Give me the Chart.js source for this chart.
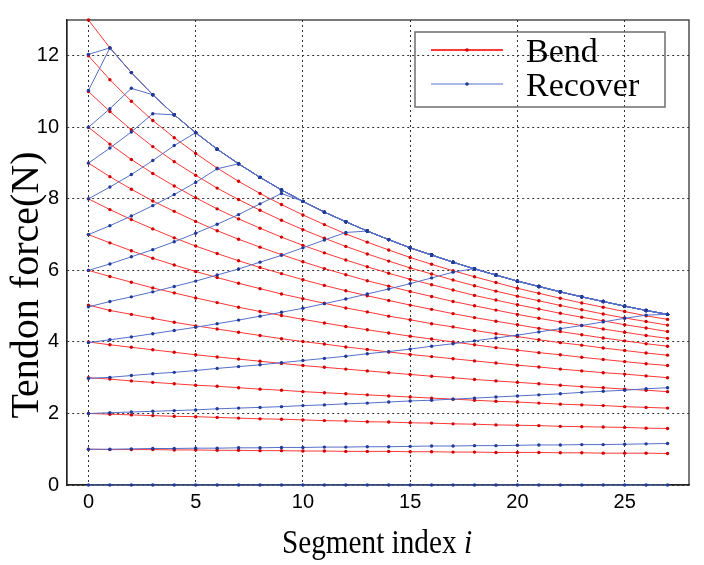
<!DOCTYPE html>
<html>
<head>
<meta charset="utf-8">
<script src="https://cdn.jsdelivr.net/npm/chart.js@4.4.1/dist/chart.umd.min.js"></script>
<style>
  html, body { margin: 0; padding: 0; background: #fff; }
  #wrap { width: 704px; height: 565px; }
</style>
</head>
<body>
<div id="wrap"><canvas id="chart" width="704" height="565"></canvas></div>
<script>
// segment index on the x axis
const segmentIndex = [0,1,2,3,4,5,6,7,8,9,10,11,12,13,14,15,16,17,18,19,20,21,22,23,24,25,26,27];
const xTicks = [0, 5, 10, 15, 20, 25];
const yTicks = [0, 2, 4, 6, 8, 10, 12];

// Bend: tension along the segments, one curve per proximal force
const bend13 = [13, 12.22, 11.53, 10.91, 10.35, 9.85, 9.39, 8.98, 8.60, 8.25, 7.93, 7.63, 7.36, 7.10, 6.86, 6.63, 6.43, 6.23, 6.04, 5.87, 5.70, 5.55, 5.40, 5.26, 5.13, 5.00, 4.88, 4.77];
const bend12 = [12, 11.33, 10.73, 10.19, 9.71, 9.27, 8.86, 8.49, 8.15, 7.84, 7.55, 7.28, 7.02, 6.79, 6.57, 6.36, 6.17, 5.99, 5.82, 5.66, 5.50, 5.36, 5.22, 5.09, 4.97, 4.85, 4.73, 4.63];
const bend11 = [11, 10.44, 9.93, 9.46, 9.04, 8.66, 8.30, 7.98, 7.68, 7.40, 7.14, 6.90, 6.67, 6.46, 6.26, 6.07, 5.90, 5.73, 5.57, 5.42, 5.28, 5.15, 5.02, 4.90, 4.78, 4.67, 4.57, 4.47];
const bend10 = [10, 9.53, 9.10, 8.71, 8.36, 8.03, 7.72, 7.44, 7.18, 6.93, 6.70, 6.49, 6.29, 6.10, 5.92, 5.75, 5.60, 5.45, 5.30, 5.17, 5.04, 4.92, 4.80, 4.69, 4.59, 4.48, 4.39, 4.29];
const bend9 = [9, 8.62, 8.27, 7.94, 7.65, 7.37, 7.11, 6.87, 6.65, 6.44, 6.24, 6.05, 5.88, 5.71, 5.56, 5.41, 5.27, 5.13, 5.01, 4.89, 4.77, 4.66, 4.56, 4.46, 4.36, 4.27, 4.18, 4.10];
const bend8 = [8, 7.70, 7.42, 7.16, 6.91, 6.68, 6.47, 6.27, 6.08, 5.91, 5.74, 5.58, 5.43, 5.29, 5.16, 5.03, 4.91, 4.79, 4.68, 4.58, 4.48, 4.38, 4.29, 4.20, 4.11, 4.03, 3.95, 3.88];
const bend7 = [7, 6.77, 6.55, 6.34, 6.15, 5.97, 5.80, 5.64, 5.49, 5.34, 5.21, 5.08, 4.95, 4.84, 4.72, 4.62, 4.51, 4.42, 4.32, 4.23, 4.15, 4.06, 3.98, 3.91, 3.83, 3.76, 3.69, 3.63];
const bend6 = [6, 5.83, 5.67, 5.51, 5.37, 5.23, 5.10, 4.97, 4.85, 4.74, 4.63, 4.53, 4.43, 4.34, 4.25, 4.16, 4.08, 4.00, 3.92, 3.84, 3.77, 3.70, 3.64, 3.57, 3.51, 3.45, 3.39, 3.34];
const bend5 = [5.03, 4.88, 4.77, 4.66, 4.55, 4.45, 4.36, 4.27, 4.18, 4.09, 4.01, 3.94, 3.86, 3.79, 3.72, 3.65, 3.59, 3.53, 3.47, 3.41, 3.35, 3.30, 3.24, 3.19, 3.14, 3.10, 3.05, 3.00];
const bend4 = [4, 3.92, 3.85, 3.78, 3.71, 3.64, 3.58, 3.52, 3.46, 3.40, 3.34, 3.29, 3.24, 3.19, 3.14, 3.09, 3.04, 3.00, 2.95, 2.91, 2.87, 2.83, 2.79, 2.75, 2.72, 2.68, 2.65, 2.61];
const bend3 = [3, 2.96, 2.91, 2.87, 2.83, 2.79, 2.76, 2.72, 2.68, 2.65, 2.61, 2.58, 2.55, 2.52, 2.49, 2.46, 2.43, 2.40, 2.37, 2.34, 2.32, 2.29, 2.26, 2.24, 2.22, 2.19, 2.17, 2.15];
const bend2 = [2, 1.98, 1.96, 1.94, 1.92, 1.91, 1.89, 1.87, 1.85, 1.84, 1.82, 1.80, 1.79, 1.77, 1.76, 1.74, 1.73, 1.71, 1.70, 1.68, 1.67, 1.66, 1.64, 1.63, 1.62, 1.61, 1.59, 1.58];
const bend1 = [1, 0.99, 0.99, 0.99, 0.98, 0.98, 0.97, 0.97, 0.96, 0.96, 0.95, 0.95, 0.94, 0.94, 0.94, 0.93, 0.93, 0.92, 0.92, 0.91, 0.91, 0.91, 0.90, 0.90, 0.89, 0.89, 0.89, 0.88];

// Recover: tension rising until it meets the top bend curve
const recover12 = [12.04, 12.22, 11.53, 10.91, 10.35, 9.85, 9.39, 8.98, 8.60, 8.25, 7.93, 7.63, 7.36, 7.10, 6.86, 6.63, 6.43, 6.23, 6.04, 5.87, 5.70, 5.55, 5.40, 5.26, 5.13, 5.00, 4.88, 4.77];
const recover11 = [11.03, 12.22, 11.53, 10.91, 10.35, 9.85, 9.39, 8.98, 8.60, 8.25, 7.93, 7.63, 7.36, 7.10, 6.86, 6.63, 6.43, 6.23, 6.04, 5.87, 5.70, 5.55, 5.40, 5.26, 5.13, 5.00, 4.88, 4.77];
const recover10 = [10, 10.52, 11.09, 10.91, 10.35, 9.85, 9.39, 8.98, 8.60, 8.25, 7.93, 7.63, 7.36, 7.10, 6.86, 6.63, 6.43, 6.23, 6.04, 5.87, 5.70, 5.55, 5.40, 5.26, 5.13, 5.00, 4.88, 4.77];
const recover9 = [9, 9.42, 9.87, 10.38, 10.35, 9.85, 9.39, 8.98, 8.60, 8.25, 7.93, 7.63, 7.36, 7.10, 6.86, 6.63, 6.43, 6.23, 6.04, 5.87, 5.70, 5.55, 5.40, 5.26, 5.13, 5.00, 4.88, 4.77];
const recover8 = [8, 8.33, 8.68, 9.07, 9.49, 9.85, 9.39, 8.98, 8.60, 8.25, 7.93, 7.63, 7.36, 7.10, 6.86, 6.63, 6.43, 6.23, 6.04, 5.87, 5.70, 5.55, 5.40, 5.26, 5.13, 5.00, 4.88, 4.77];
const recover7 = [7, 7.25, 7.52, 7.81, 8.12, 8.46, 8.84, 8.98, 8.60, 8.25, 7.93, 7.63, 7.36, 7.10, 6.86, 6.63, 6.43, 6.23, 6.04, 5.87, 5.70, 5.55, 5.40, 5.26, 5.13, 5.00, 4.88, 4.77];
const recover6 = [6, 6.18, 6.38, 6.58, 6.80, 7.04, 7.29, 7.56, 7.86, 8.15, 7.93, 7.63, 7.36, 7.10, 6.86, 6.63, 6.43, 6.23, 6.04, 5.87, 5.70, 5.55, 5.40, 5.26, 5.13, 5.00, 4.88, 4.77];
const recover5 = [4.98, 5.13, 5.26, 5.40, 5.55, 5.70, 5.87, 6.04, 6.23, 6.42, 6.63, 6.85, 7.06, 7.10, 6.86, 6.63, 6.43, 6.23, 6.04, 5.87, 5.70, 5.55, 5.40, 5.26, 5.13, 5.00, 4.88, 4.77];
const recover4 = [3.98, 4.06, 4.14, 4.23, 4.32, 4.41, 4.51, 4.61, 4.72, 4.83, 4.94, 5.07, 5.20, 5.34, 5.48, 5.63, 5.79, 5.95, 6.05, 5.87, 5.70, 5.55, 5.40, 5.26, 5.13, 5.00, 4.88, 4.77];
const recover3 = [2.98, 3.01, 3.06, 3.11, 3.15, 3.20, 3.26, 3.31, 3.36, 3.42, 3.48, 3.54, 3.60, 3.67, 3.73, 3.80, 3.88, 3.95, 4.03, 4.11, 4.19, 4.28, 4.37, 4.46, 4.56, 4.66, 4.75, 4.77];
const recover2 = [2, 2.02, 2.04, 2.06, 2.08, 2.10, 2.13, 2.15, 2.17, 2.19, 2.22, 2.24, 2.27, 2.29, 2.32, 2.35, 2.37, 2.40, 2.43, 2.46, 2.49, 2.52, 2.55, 2.59, 2.62, 2.65, 2.69, 2.72];
const recover1 = [1, 1.00, 1.01, 1.02, 1.02, 1.03, 1.03, 1.04, 1.04, 1.05, 1.05, 1.06, 1.06, 1.07, 1.07, 1.08, 1.09, 1.09, 1.10, 1.10, 1.11, 1.12, 1.12, 1.13, 1.13, 1.14, 1.15, 1.16];
const recover0 = [0, 0, 0, 0, 0, 0, 0, 0, 0, 0, 0, 0, 0, 0, 0, 0, 0, 0, 0, 0, 0, 0, 0, 0, 0, 0, 0, 0];

const bendSeries = [bend13, bend12, bend11, bend10, bend9, bend8, bend7, bend6, bend5, bend4, bend3, bend2, bend1];
const recoverSeries = [recover12, recover11, recover10, recover9, recover8, recover7, recover6, recover5, recover4, recover3, recover2, recover1, recover0];

const RED_LINE = '#ff3838';
const RED_DOT = '#d40000';
const BLUE_LINE = '#5570c8';
const BLUE_DOT = '#1f3a9a';
const SERIF = '"Liberation Serif", "Times New Roman", serif';

function toPoints(values) {
    return values.map((v, i) => ({ x: segmentIndex[i], y: v }));
}

function makeDataset(values, label, line, dot, order) {
    return {
        label: label,
        data: toPoints(values),
        borderColor: line,
        borderWidth: 1,
        pointRadius: 1.7,
        pointBackgroundColor: dot,
        pointBorderWidth: 0,
        tension: 0,
        clip: false,
        order: order
    };
}

let datasets = [];
bendSeries.forEach(v => datasets.push(makeDataset(v, 'Bend', RED_LINE, RED_DOT, 2)));
recoverSeries.forEach(v => datasets.push(makeDataset(v, 'Recover', BLUE_LINE, BLUE_DOT, 1)));

// frame, axis titles and the boxed legend inside the plot
const decor = {
    id: 'decor',
    beforeDatasetsDraw(chart) {
        const {ctx, chartArea: a} = chart;
        ctx.save();
        ctx.strokeStyle = '#222';
        ctx.lineWidth = 1.2;
        ctx.strokeRect(a.left, a.top, a.right - a.left, a.bottom - a.top);
        ctx.restore();
    },
    afterDatasetsDraw(chart) {
        const {ctx} = chart;
        ctx.save();
        ctx.fillStyle = '#000';

        // y title
        ctx.save();
        ctx.translate(38, 285);
        ctx.rotate(-Math.PI / 2);
        ctx.font = '40px ' + SERIF;
        ctx.textAlign = 'center';
        ctx.textBaseline = 'alphabetic';
        ctx.fillText('Tendon force(N)', 0, 0);
        ctx.restore();

        // x title with italic i, a little narrow like the original
        ctx.save();
        ctx.translate(377, 553);
        ctx.scale(0.86, 1);
        ctx.textBaseline = 'alphabetic';
        ctx.textAlign = 'left';
        ctx.font = '34px ' + SERIF;
        let part1 = 'Segment index ';
        let w1 = ctx.measureText(part1).width;
        ctx.font = 'italic 34px ' + SERIF;
        let w2 = ctx.measureText('i').width;
        let x0 = -(w1 + w2) / 2;
        ctx.font = '34px ' + SERIF;
        ctx.fillText(part1, x0, 0);
        ctx.font = 'italic 34px ' + SERIF;
        ctx.fillText('i', x0 + w1, 0);
        ctx.restore();

        // legend
        ctx.strokeStyle = '#6e6e6e';
        ctx.lineWidth = 1.5;
        ctx.strokeRect(415, 32, 250, 75);
        const rows = [
            {y: 50, text: 'Bend', line: RED_LINE, dot: RED_DOT, w: 2},
            {y: 84, text: 'Recover', line: BLUE_LINE, dot: BLUE_DOT, w: 1.2}
        ];
        ctx.font = '34px ' + SERIF;
        ctx.textAlign = 'left';
        rows.forEach(r => {
            ctx.strokeStyle = r.line;
            ctx.lineWidth = r.w;
            ctx.beginPath();
            ctx.moveTo(431, r.y);
            ctx.lineTo(503, r.y);
            ctx.stroke();
            ctx.fillStyle = r.dot;
            ctx.beginPath();
            ctx.arc(467, r.y, 1.8, 0, Math.PI * 2);
            ctx.fill();
            ctx.fillStyle = '#000';
            ctx.fillText(r.text, 526, r.y + 12);
        });
        ctx.restore();
    }
};

const tickFont = { family: '"Liberation Sans", Arial, sans-serif', size: 20 };

new Chart(document.getElementById('chart'), {
    type: 'line',
    data: { datasets: datasets },
    options: {
        responsive: false,
        animation: false,
        devicePixelRatio: 1,
        layout: { padding: { top: 11, right: 15, left: 0, bottom: 0 } },
        plugins: { legend: { display: false }, tooltip: { enabled: false } },
        scales: {
            x: {
                type: 'linear',
                min: -1,
                max: 28,
                afterBuildTicks: s => { s.ticks = xTicks.map(v => ({ value: v })); },
                afterFit: s => { s.height = 80; },
                grid: { color: '#333', lineWidth: 1, drawTicks: false },
                border: { display: true, color: '#222', width: 1.2, dash: [2, 3] },
                ticks: { color: '#000', font: tickFont, padding: 5, maxRotation: 0 }
            },
            y: {
                type: 'linear',
                min: 0,
                max: 13,
                afterBuildTicks: s => { s.ticks = yTicks.map(v => ({ value: v })); },
                afterFit: s => { s.width = 67; },
                grid: { color: '#333', lineWidth: 1, drawTicks: false },
                border: { display: true, color: '#222', width: 1.2, dash: [2, 3] },
                ticks: { color: '#000', font: tickFont, padding: 8 }
            }
        }
    },
    plugins: [decor]
});
</script>
</body>
</html>
